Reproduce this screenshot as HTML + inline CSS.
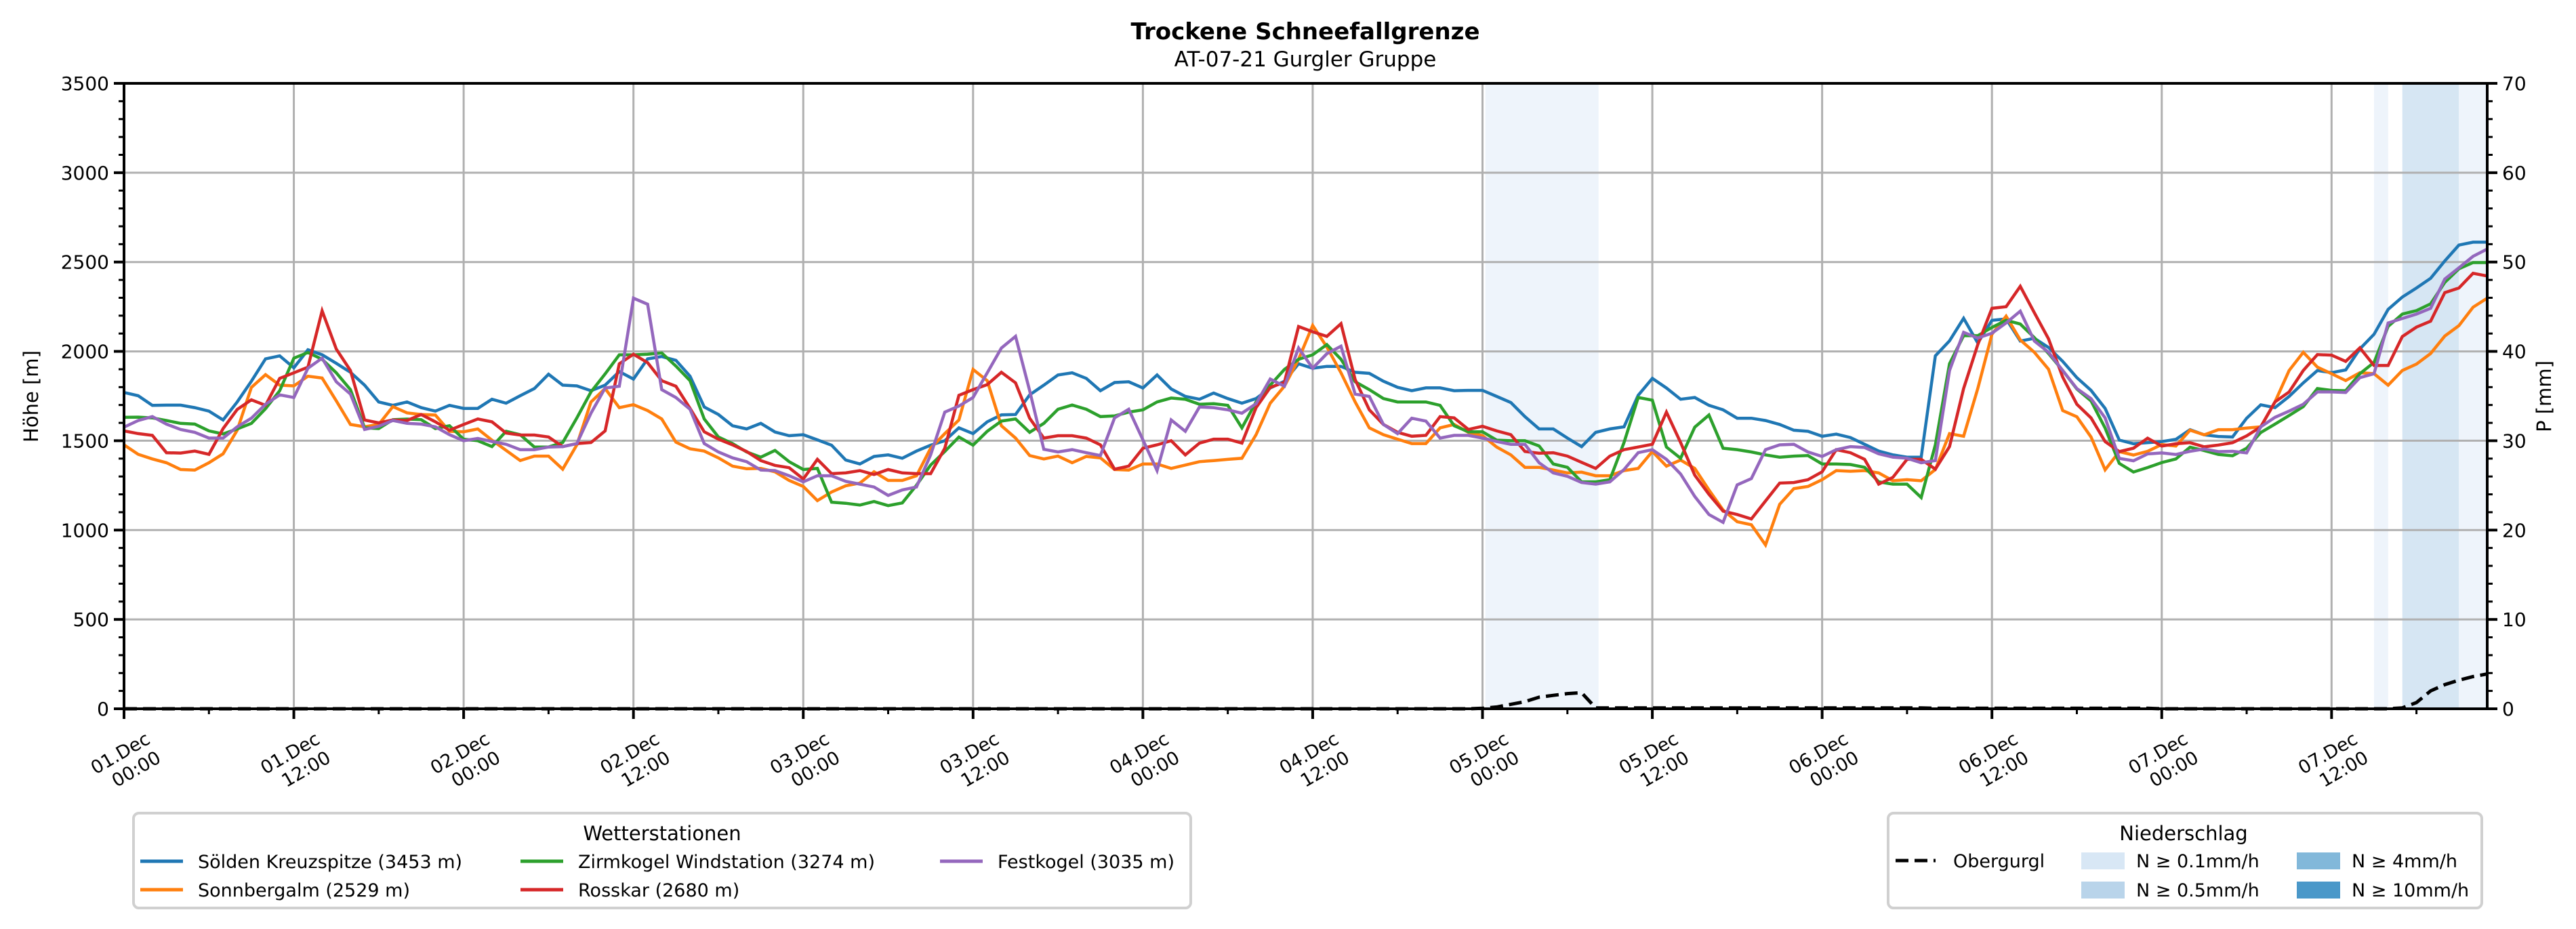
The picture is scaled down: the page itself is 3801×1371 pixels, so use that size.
<!DOCTYPE html>
<html><head><meta charset="utf-8">
<style>
html,body{margin:0;padding:0;background:#fff;}
svg{display:block;font-family:"DejaVu Sans","Liberation Sans",sans-serif;}
</style></head>
<body>
<svg id="chart" width="3801" height="1371" viewBox="0 0 3801 1371" xmlns="http://www.w3.org/2000/svg">
<rect x="0" y="0" width="3801" height="1371" fill="#fff"/>
<text x="1926" y="58" text-anchor="middle" font-size="34" font-weight="bold">Trockene Schneefallgrenze</text>
<text x="1926" y="98" text-anchor="middle" font-size="31">AT-07-21 Gurgler Gruppe</text>
<g id="bands"></g>
<g id="grid"></g>
<g id="series"></g>
<g id="axes"></g>
<text transform="translate(56,585) rotate(-90)" text-anchor="middle" font-size="29">Höhe [m]</text>
<text transform="translate(3764,585) rotate(-90)" text-anchor="middle" font-size="29">P [mm]</text>

<g>
<rect x="197" y="1200" width="1560" height="140" rx="8" fill="#fff" stroke="#d0d0d0" stroke-width="4"/>
<text x="977" y="1240" text-anchor="middle" font-size="29">Wetterstationen</text>
<g><line x1="207" y1="1271" x2="270" y2="1271" stroke="#1f77b4" stroke-width="5"/><text x="292" y="1281" font-size="27">Sölden Kreuzspitze (3453 m)</text></g>
<g><line x1="207" y1="1313" x2="270" y2="1313" stroke="#ff7f0e" stroke-width="5"/><text x="292" y="1323" font-size="27">Sonnbergalm (2529 m)</text></g>
<g><line x1="768" y1="1271" x2="831" y2="1271" stroke="#2ca02c" stroke-width="5"/><text x="853" y="1281" font-size="27">Zirmkogel Windstation (3274 m)</text></g>
<g><line x1="768" y1="1313" x2="831" y2="1313" stroke="#d62728" stroke-width="5"/><text x="853" y="1323" font-size="27">Rosskar (2680 m)</text></g>
<g><line x1="1387" y1="1271" x2="1450" y2="1271" stroke="#9467bd" stroke-width="5"/><text x="1472" y="1281" font-size="27">Festkogel (3035 m)</text></g>
</g>

<g>
<rect x="2786" y="1200" width="876" height="140" rx="8" fill="#fff" stroke="#d0d0d0" stroke-width="4"/>
<text x="3222" y="1240" text-anchor="middle" font-size="29">Niederschlag</text>
<g><line x1="2797" y1="1270" x2="2856" y2="1270" stroke="#000" stroke-width="5" stroke-dasharray="19,9"/><text x="2882" y="1280" font-size="27">Obergurgl</text></g>
<g><rect x="3071" y="1258" width="64" height="25" fill="#d8e7f5"/><text x="3152" y="1280" font-size="27">N ≥ 0.1mm/h</text></g>
<g><rect x="3071" y="1301" width="64" height="25" fill="#b9d4ea"/><text x="3152" y="1323" font-size="27">N ≥ 0.5mm/h</text></g>
<g><rect x="3389" y="1258" width="64" height="25" fill="#82b8da"/><text x="3470" y="1280" font-size="27">N ≥ 4mm/h</text></g>
<g><rect x="3389" y="1301" width="64" height="25" fill="#4a98c9"/><text x="3470" y="1323" font-size="27">N ≥ 10mm/h</text></g>
</g>
</svg>
<script>
// ---- data (hourly, hour 0 = 01.Dec 00:00) ----
const xTickLabels = ["01.Dec|00:00","01.Dec|12:00","02.Dec|00:00","02.Dec|12:00","03.Dec|00:00","03.Dec|12:00","04.Dec|00:00","04.Dec|12:00","05.Dec|00:00","05.Dec|12:00","06.Dec|00:00","06.Dec|12:00","07.Dec|00:00","07.Dec|12:00"];
const yTicks = [0,500,1000,1500,2000,2500,3000,3500];
const y2Ticks = [0,10,20,30,40,50,60,70];
const soelden = [1770,1752,1698,1699,1699,1685,1666,1616,1717,1833,1958,1975,1908,2009,1981,1933,1883,1811,1717,1698,1717,1685,1666,1698,1681,1681,1732,1710,1752,1792,1872,1811,1807,1780,
1811,1887,1845,1958,1971,1950,1861,1689,1647,1584,1566,1597,1549,1528,1534,1505,1475,1392,1370,1412,1421,1402,1442,1475,1500,1572,1540,1606,1645,1647,1757,1811,1868,
1880,1849,1780,1826,1830,1795,1868,1790,1748,1732,1767,1736,1710,1736,1795,1833,1931,1906,1916,1916,1883,1877,1833,1799,1780,1796,1796,1780,1782,1782,1748,1714,1635,
1566,1566,1515,1467,1547,1566,1578,1754,1849,1795,1732,1742,1698,1673,1626,1626,1613,1591,1559,1553,1525,1537,1518,1480,1442,1421,1408,1408,1975,2059,2185,2047,
2174,2182,2058,2073,2022,1944,1853,1782,1681,1504,1483,1489,1495,1508,1562,1533,1524,1521,1626,1701,1685,1748,1824,1893,1881,1896,2014,2096,2235,2304,2355,2409,2506,2595,2611,2611];
const sonnbergalm = [1477,1424,1398,1377,1339,1336,1377,1427,1559,1798,1870,1811,1807,1861,1851,1723,1591,1578,1591,1691,1656,1647,1644,1553,1550,1566,1503,1446,1389,1414,1414,1341,1477,1717,
1792,1685,1702,1669,1622,1492,1455,1442,1404,1358,1343,1345,1326,1278,1244,1165,1213,1248,1263,1326,1278,1278,1304,1458,1540,1616,1899,1836,1584,1515,1417,1398,1414,
1377,1412,1404,1339,1336,1370,1370,1345,1364,1383,1389,1396,1402,1534,1710,1805,1956,2145,2025,1880,1717,1572,1534,1509,1484,1484,1572,1591,1547,1528,1465,1421,1351,
1351,1336,1320,1324,1304,1304,1333,1345,1440,1358,1392,1345,1225,1112,1047,1030,917,1144,1232,1244,1282,1333,1329,1333,1320,1276,1282,1276,1339,1540,1525,1792,
2096,2197,2064,1995,1900,1669,1634,1521,1337,1439,1420,1441,1479,1470,1559,1533,1562,1562,1571,1578,1717,1893,1995,1912,1875,1837,1881,1875,1811,1893,1929,1988,2086,2144,2247,2298];
const zirmkogel = [1631,1632,1628,1613,1597,1593,1555,1538,1566,1597,1679,1780,1962,1994,1956,1880,1786,1572,1568,1618,1621,1618,1568,1584,1509,1500,1467,1553,1534,1465,1465,1490,1628,1773,
1874,1981,1981,1984,1991,1918,1836,1622,1521,1484,1437,1408,1446,1383,1339,1345,1156,1150,1140,1160,1137,1152,1251,1364,1440,1521,1475,1553,1610,1622,1547,1597,1676,
1700,1676,1635,1639,1660,1673,1717,1739,1732,1704,1707,1698,1572,1717,1811,1899,1956,1981,2038,1956,1830,1786,1736,1717,1717,1717,1698,1584,1550,1550,1503,1500,1500,
1471,1370,1351,1270,1270,1282,1490,1742,1727,1465,1402,1576,1644,1458,1450,1437,1421,1408,1414,1417,1370,1370,1367,1351,1270,1257,1257,1182,1477,1931,2088,2088,
2134,2174,2153,2077,1988,1893,1790,1723,1571,1373,1325,1350,1378,1398,1464,1445,1423,1416,1458,1546,1593,1641,1691,1792,1782,1780,1875,1938,2140,2209,2228,2266,2386,2462,2497,2497];
const rosskar = [1555,1540,1530,1433,1431,1442,1424,1568,1675,1729,1698,1849,1880,1912,2227,2013,1893,1616,1600,1616,1613,1647,1606,1559,1591,1622,1606,1543,1532,1532,1521,1467,1484,1490,
1555,1931,1984,1937,1836,1805,1681,1550,1509,1477,1440,1389,1362,1349,1286,1396,1316,1320,1333,1311,1339,1320,1316,1316,1458,1754,1786,1814,1883,1824,1626,1515,1528,
1528,1515,1477,1341,1358,1458,1477,1500,1421,1487,1509,1509,1487,1685,1798,1827,2139,2110,2084,2155,1842,1673,1591,1547,1525,1530,1635,1628,1563,1581,1555,1534,1440,
1430,1433,1414,1379,1345,1414,1450,1465,1480,1660,1490,1307,1200,1106,1087,1062,1163,1263,1266,1282,1326,1450,1433,1396,1257,1295,1396,1396,1341,1467,1792,2038,
2241,2250,2364,2216,2070,1856,1704,1628,1495,1439,1458,1514,1470,1483,1489,1466,1476,1489,1527,1578,1717,1773,1893,1982,1979,1944,2020,1921,1921,2083,2136,2169,2329,2355,2437,2422];
const festkogel = [1576,1613,1635,1593,1563,1547,1515,1515,1578,1626,1704,1757,1742,1906,1962,1830,1761,1563,1581,1613,1597,1593,1578,1534,1500,1513,1496,1480,1450,1450,1465,1467,1484,1654,
1795,1805,2298,2264,1786,1742,1676,1484,1437,1404,1383,1336,1333,1304,1270,1304,1304,1273,1257,1241,1194,1225,1241,1421,1660,1694,1742,1880,2019,2084,1780,1452,1437,
1450,1433,1417,1628,1676,1505,1333,1616,1553,1689,1685,1673,1654,1707,1845,1805,2019,1906,1987,2029,1761,1748,1591,1540,1626,1610,1515,1530,1530,1515,1496,1480,1480,
1377,1320,1301,1266,1257,1270,1339,1433,1450,1396,1314,1188,1087,1043,1253,1288,1450,1477,1480,1437,1412,1450,1467,1462,1427,1408,1402,1377,1389,1893,2107,2075,
2102,2159,2225,2058,1995,1893,1792,1736,1628,1401,1388,1426,1432,1423,1441,1454,1439,1441,1432,1578,1631,1666,1704,1773,1773,1770,1853,1875,2159,2184,2209,2241,2405,2468,2532,2573];
const obergurgl = [0,0,0,0,0,0,0,0,0,0,0,0,0,0,0,0,0,0,0,0,0,0,0,0,
0,0,0,0,0,0,0,0,0,0,0,0,0,0,0,0,0,0,0,0,0,0,0,0,
0,0,0,0,0,0,0,0,0,0,0,0,0,0,0,0,0,0,0,0,0,0,0,0,
0,0,0,0,0,0,0,0,0,0,0,0,0,0,0,0,0,0,0,0,0,0,0,0,
0.05,0.2,0.5,0.8,1.3,1.5,1.7,1.8,0.1,0.1,0.1,0.1,0.1,0.1,0.1,0.1,0.1,0.1,0.1,0.1,0.1,0.1,0.1,0.1,
0.1,0.1,0.1,0.1,0.1,0.1,0.1,0.1,0.05,0.05,0.05,0.05,0.05,0.05,0.05,0.05,0.05,0.05,0.05,0.05,0.05,0.05,0.05,0.05,
0,0,0,0,0,0,0,0,0,0,0,0,0,0,0,0,0,0.1,0.7,2.0,2.7,3.2,3.6,3.9];
const bandStarts = [96.2,159.0,161.0,165.0];
const bandEnds = [104.2,160.0,165.0,167];
const bandLevels = [0,0,1,0];

// ---- axis functions ----
const L=183, R=3670, T=123, B=1046, XMAX=167;
const xs = h => L + h*(R-L)/XMAX;
const ys = v => B - v*(B-T)/3500;
const y2s = p => B - p*(B-T)/70;
const NS="http://www.w3.org/2000/svg";
function mk(tag, attrs, parent){const e=document.createElementNS(NS,tag);for(const k in attrs)e.setAttribute(k,attrs[k]);parent.appendChild(e);return e;}

const bandG=document.getElementById('bands');
const bandColors=['#eef4fb','#d6e6f3'];
bandStarts.forEach((s,i)=>{
  const r=mk('rect',{x:xs(s),y:T,width:xs(bandEnds[i])-xs(s),height:B-T,fill:bandColors[bandLevels[i]]},bandG);
  
  
});

const grid=document.getElementById('grid');
yTicks.forEach(v=>{const l=mk('line',{x1:L,x2:R,y1:ys(v),y2:ys(v),stroke:'#b0b0b0','stroke-width':3},grid);
  
  });
xTickLabels.forEach((t,i)=>{const x=xs(i*12);const l=mk('line',{x1:x,x2:x,y1:T,y2:B,stroke:'#b0b0b0','stroke-width':3},grid);
  
  });

const seriesG=document.getElementById('series');
const seriesList=[[soelden,'#1f77b4','series-soelden'],[sonnbergalm,'#ff7f0e','series-sonnbergalm'],[zirmkogel,'#2ca02c','series-zirmkogel'],[rosskar,'#d62728','series-rosskar'],[festkogel,'#9467bd','series-festkogel']];
seriesList.forEach(([arr,col,name])=>{
  const d=arr.map((v,i)=>(i?'L':'M')+xs(i).toFixed(1)+' '+ys(v).toFixed(1)).join(' ');
  const p=mk('path',{d:d,fill:'none',stroke:col,'stroke-width':4.5,'stroke-linejoin':'miter'},seriesG);
  
  
});
{
  const d=obergurgl.map((v,i)=>(i?'L':'M')+xs(i).toFixed(1)+' '+y2s(v).toFixed(1)).join(' ');
  const p=mk('path',{d:d,fill:'none',stroke:'#000','stroke-width':5,'stroke-dasharray':'19,9'},seriesG);
  
  
}

const ax=document.getElementById('axes');
mk('rect',{x:L,y:T,width:R-L,height:B-T,fill:'none',stroke:'#000','stroke-width':4},ax);
for(let v=0;v<=3500;v+=100){const maj=v%500===0;mk('line',{x1:L-(maj?15:8),x2:L,y1:ys(v),y2:ys(v),stroke:'#000','stroke-width':maj?4:3},ax);}
for(let p=0;p<=70;p+=2){const maj=p%10===0;mk('line',{x1:R,x2:R+(maj?15:8),y1:y2s(p),y2:y2s(p),stroke:'#000','stroke-width':maj?4:3},ax);}
for(let h=0;h<=XMAX;h+=6){const maj=h%12===0;mk('line',{x1:xs(h),x2:xs(h),y1:B,y2:B+(maj?15:8),stroke:'#000','stroke-width':maj?4:3},ax);}
yTicks.forEach(v=>{const t=mk('text',{x:L-22,y:ys(v)+10,'text-anchor':'end','font-size':28},ax);t.textContent=v;
  
  });
y2Ticks.forEach(p=>{const t=mk('text',{x:R+22,y:y2s(p)+10,'font-size':28},ax);t.textContent=p;
  
  });
xTickLabels.forEach((lab,i)=>{
  const parts=lab.split('|');
  const g=mk('g',{transform:`translate(${xs(i*12)},1126) rotate(-30)`},ax);
  
  
  const t1=mk('text',{x:50,y:-6,'text-anchor':'end','font-size':27},g);t1.textContent=parts[0];
  const t2=mk('text',{x:50,y:26,'text-anchor':'end','font-size':27},g);t2.textContent=parts[1];
});
</script>
</body></html>
